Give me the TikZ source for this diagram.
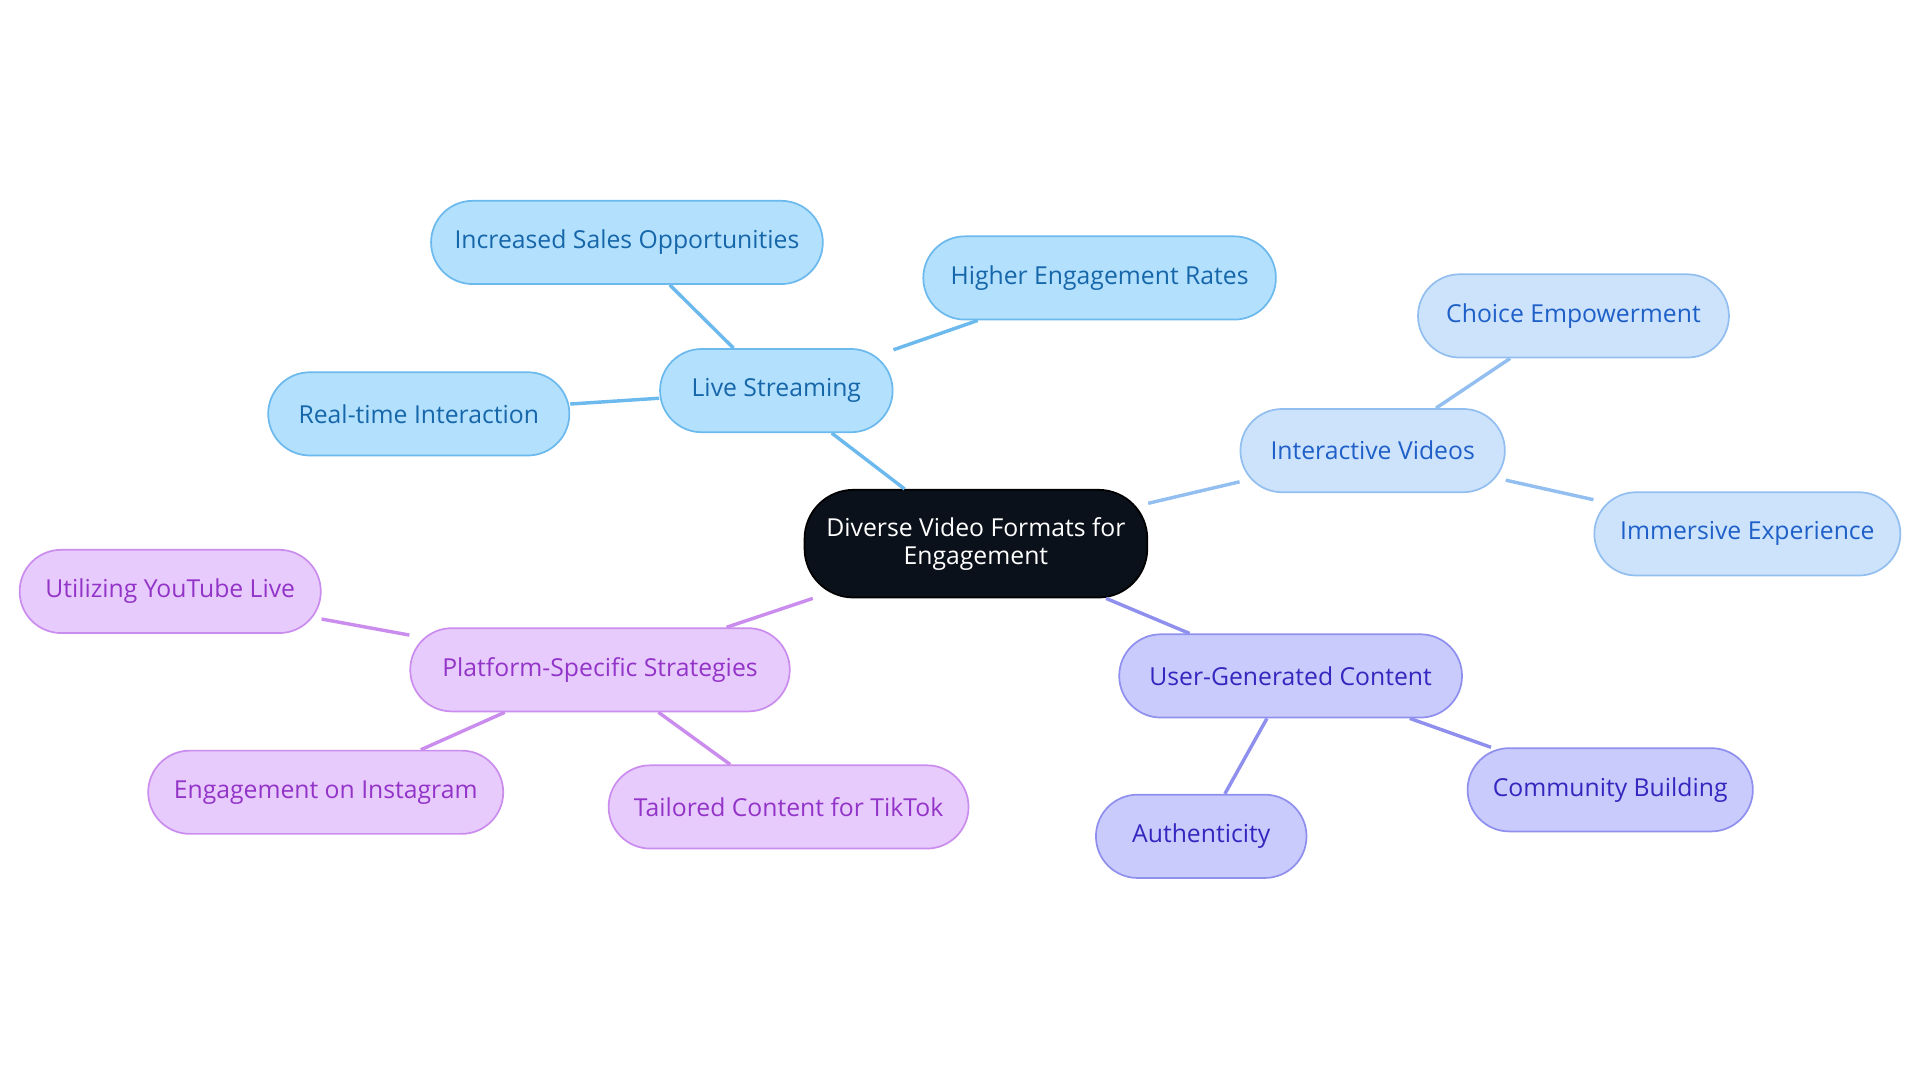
\documentclass[tikz,border=0pt]{standalone}
\usepackage{fontspec}
\setmainfont{Open Sans}
\definecolor{lsF}{HTML}{B3E0FD}\definecolor{lsD}{HTML}{6CB9EE}\definecolor{lsT}{HTML}{1666AA}
\definecolor{ivF}{HTML}{CCE3FB}\definecolor{ivD}{HTML}{93BFF0}\definecolor{ivT}{HTML}{1E5FC8}
\definecolor{ugF}{HTML}{CACBFD}\definecolor{ugD}{HTML}{8F90EE}\definecolor{ugT}{HTML}{3426BE}
\definecolor{psF}{HTML}{E8CBFD}\definecolor{psD}{HTML}{CA8DEE}\definecolor{psT}{HTML}{9334C8}
\definecolor{ctF}{HTML}{0B111A}
\tikzset{
 base/.style={rounded corners=0.68cm,minimum height=1.36cm,font=\fontsize{11.5}{13}\selectfont,line width=0.8pt,inner sep=0pt,align=center},
 ls/.style={base,fill=lsF,draw=lsD,text=lsT},
 iv/.style={base,fill=ivF,draw=ivD,text=ivT},
 ug/.style={base,fill=ugF,draw=ugD,text=ugT},
 ps/.style={base,fill=psF,draw=psD,text=psT},
 lsl/.style={draw=lsD,line width=1.6pt},
 ivl/.style={draw=ivD,line width=1.6pt},
 ugl/.style={draw=ugD,line width=1.6pt},
 psl/.style={draw=psD,line width=1.6pt},
}
\begin{document}
\begin{tikzpicture}[x=0.02cm,y=-0.02cm]
\useasboundingbox (0,0) rectangle (1568,884);
\node[base,fill=ctF,draw=black,text=white,minimum width=5.6cm,minimum height=1.76cm,rounded corners=0.8cm] (c) at (797,444) {Diverse Video Formats for\\Engagement};
\node[ls,minimum width=3.8cm] (ls) at (634,319) {Live Streaming};
\node[ls,minimum width=6.4cm] (ls1) at (512,198) {Increased Sales Opportunities};
\node[ls,minimum width=5.76cm] (ls2) at (898,227) {Higher Engagement Rates};
\node[ls,minimum width=4.92cm] (ls3) at (342,338) {Real-time Interaction};
\node[iv,minimum width=4.32cm] (iv) at (1121,368) {Interactive Videos};
\node[iv,minimum width=5.08cm] (iv1) at (1285,258) {Choice Empowerment};
\node[iv,minimum width=5cm] (iv2) at (1427,436) {Immersive Experience};
\node[ug,minimum width=5.6cm] (ug) at (1054,552) {User-Generated Content};
\node[ug,minimum width=4.66cm] (ug1) at (1315,645) {Community Building};
\node[ug,minimum width=3.44cm] (ug2) at (981,683) {Authenticity};
\node[ps,minimum width=6.2cm] (ps) at (490,547) {Platform-Specific Strategies};
\node[ps,minimum width=4.92cm] (ps1) at (139,483) {Utilizing YouTube Live};
\node[ps,minimum width=5.8cm] (ps2) at (266,647) {Engagement on Instagram};
\node[ps,minimum width=5.88cm] (ps3) at (644,659) {Tailored Content for TikTok};
\begin{scope}[on background layer/.try]
\end{scope}
\draw[lsl] (c) -- (ls); \draw[lsl] (ls) -- (ls1); \draw[lsl] (ls) -- (ls2); \draw[lsl] (ls) -- (ls3);
\draw[ivl] (c) -- (iv); \draw[ivl] (iv) -- (iv1); \draw[ivl] (iv) -- (iv2);
\draw[ugl] (c) -- (ug); \draw[ugl] (ug) -- (ug1); \draw[ugl] (ug) -- (ug2);
\draw[psl] (c) -- (ps); \draw[psl] (ps) -- (ps1); \draw[psl] (ps) -- (ps2); \draw[psl] (ps) -- (ps3);
\end{tikzpicture}
\end{document}
